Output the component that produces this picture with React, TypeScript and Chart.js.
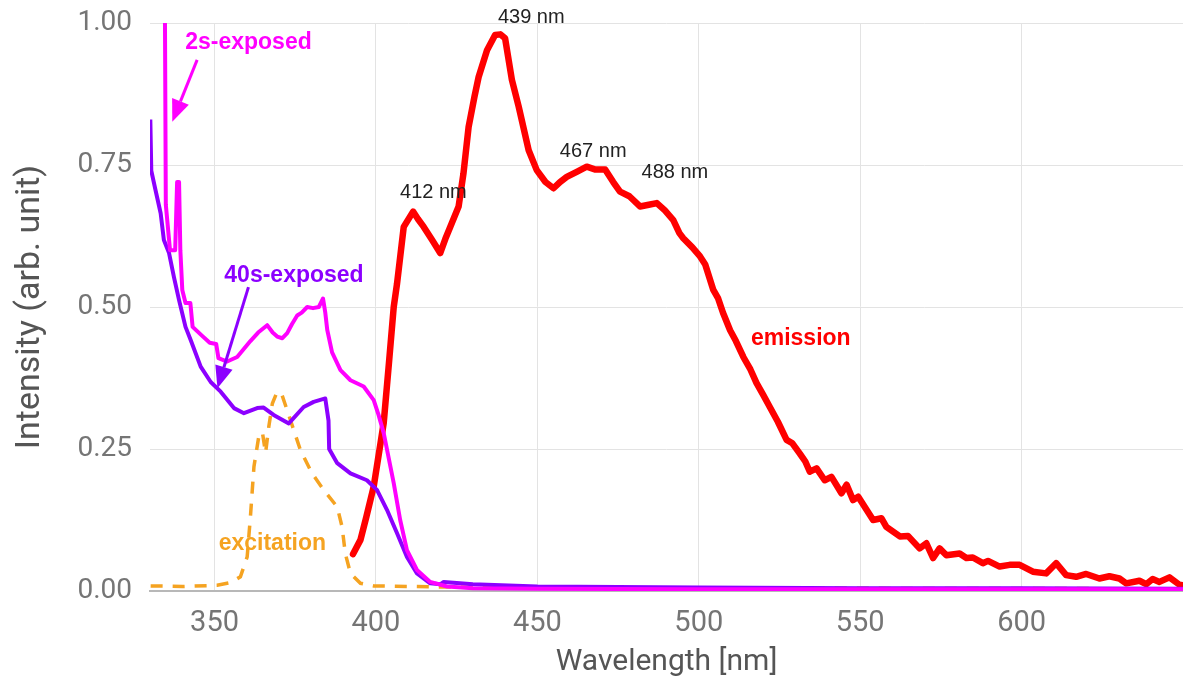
import React, { useEffect, useRef } from 'react';
import { Chart, registerables } from 'chart.js';

Chart.register(...registerables);

// ---- axis ticks ----
const xTicks = [350, 400, 450, 500, 550, 600];
const yTicks = [0, 0.25, 0.5, 0.75, 1.0];

// ---- emission (red) ----
const emissionWl = [392.9, 395.2, 397.0, 399.3, 402.4, 404.0, 405.5, 406.5, 408.6, 411.5, 413.0, 414.8, 417.4, 419.9, 421.5, 423.0, 425.6, 427.1, 428.7, 430.5, 431.8, 434.4, 436.9, 438.5, 440.0, 442.1, 444.2, 447.3, 449.8, 452.5, 455.0, 457.0, 459.1, 462.2, 465.3, 468.0, 471.0, 473.5, 475.6, 478.5, 481.8, 484.5, 487.0, 489.5, 492.1, 494.0, 495.2, 498.0, 500.4, 502.0, 504.5, 506.0, 507.5, 509.7, 511.5, 513.8, 516.0, 517.9, 520.0, 522.0, 524.5, 527.2, 529.0, 531.3, 533.0, 534.4, 536.5, 539.0, 541.1, 544.2, 545.8, 547.8, 549.4, 554.0, 556.6, 558.1, 562.3, 564.8, 568.4, 570.5, 572.6, 574.6, 576.7, 580.8, 582.9, 584.9, 588.0, 589.6, 593.2, 596.3, 599.4, 603.5, 607.6, 610.7, 613.8, 616.9, 620.0, 624.1, 627.2, 630.3, 632.4, 636.5, 638.6, 640.6, 642.7, 645.8, 648.9, 650.0];
const emissionVal = [0.065, 0.09, 0.13, 0.184, 0.296, 0.4, 0.5, 0.54, 0.641, 0.668, 0.655, 0.641, 0.618, 0.595, 0.62, 0.641, 0.677, 0.735, 0.817, 0.87, 0.905, 0.952, 0.979, 0.98, 0.973, 0.9, 0.853, 0.776, 0.741, 0.72, 0.709, 0.72, 0.729, 0.738, 0.747, 0.742, 0.742, 0.72, 0.703, 0.695, 0.677, 0.68, 0.683, 0.67, 0.653, 0.63, 0.621, 0.605, 0.589, 0.575, 0.53, 0.515, 0.49, 0.459, 0.44, 0.412, 0.39, 0.366, 0.345, 0.324, 0.298, 0.266, 0.26, 0.242, 0.228, 0.21, 0.216, 0.195, 0.201, 0.172, 0.187, 0.16, 0.166, 0.125, 0.128, 0.113, 0.096, 0.097, 0.075, 0.084, 0.058, 0.075, 0.063, 0.066, 0.058, 0.059, 0.049, 0.053, 0.043, 0.046, 0.046, 0.034, 0.031, 0.049, 0.028, 0.025, 0.03, 0.022, 0.026, 0.022, 0.0135, 0.018, 0.012, 0.021, 0.016, 0.024, 0.011, 0.01];

// ---- 2s-exposed (magenta) ----
const exp2sWl = [334.6, 334.9, 336.2, 337.8, 338.4, 339.0, 339.4, 340.0, 341.0, 342.5, 343.2, 346.0, 348.5, 350.5, 351.2, 353.9, 357.0, 361.1, 363.5, 366.3, 368.0, 369.4, 371.0, 372.5, 374.0, 375.6, 377.0, 378.7, 380.5, 382.3, 383.6, 384.3, 384.9, 386.4, 389.0, 392.1, 396.2, 399.3, 400.8, 402.4, 405.5, 407.5, 409.6, 412.7, 416.8, 422.0, 430, 450, 500, 550, 600, 650];
const exp2sVal = [1.05, 0.68, 0.6, 0.6, 0.72, 0.72, 0.6, 0.53, 0.507, 0.507, 0.465, 0.45, 0.437, 0.435, 0.41, 0.404, 0.412, 0.44, 0.455, 0.468, 0.455, 0.448, 0.445, 0.454, 0.47, 0.485, 0.49, 0.5, 0.498, 0.5, 0.515, 0.49, 0.46, 0.42, 0.389, 0.371, 0.36, 0.336, 0.31, 0.278, 0.19, 0.125, 0.072, 0.037, 0.016, 0.008, 0.005, 0.004, 0.003, 0.003, 0.003, 0.003];

// ---- 40s-exposed (purple) ----
const exp40sWl = [330.1, 330.4, 331.7, 333.3, 334.3, 335.9, 337.4, 339.0, 341.0, 342.6, 345.7, 348.8, 351.9, 356.0, 359.1, 363.2, 365.2, 368.3, 373.0, 377.6, 380.7, 384.3, 385.3, 385.5, 388.0, 392.1, 397.2, 400.3, 403.4, 406.5, 409.6, 412.7, 416.8, 420.0, 421.0, 430, 450, 500, 550, 600, 650];
const exp40sVal = [0.83, 0.74, 0.706, 0.665, 0.618, 0.595, 0.553, 0.512, 0.465, 0.442, 0.395, 0.368, 0.351, 0.322, 0.313, 0.322, 0.323, 0.31, 0.295, 0.324, 0.333, 0.339, 0.3, 0.25, 0.225, 0.207, 0.195, 0.178, 0.143, 0.102, 0.06, 0.031, 0.0135, 0.012, 0.016, 0.012, 0.008, 0.006, 0.005, 0.005, 0.004];

// ---- excitation (orange, dashed) ----
const excitationWl = [330.2, 340.0, 350.8, 355.0, 358.0, 360.1, 361.1, 362.2, 363.7, 364.8, 365.8, 366.8, 367.9, 369.4, 370.9, 373.5, 376.6, 380.2, 383.8, 388.0, 389.5, 390.5, 392.1, 395.2, 399.3, 420, 500, 650];
const excitationVal = [0.009, 0.008, 0.01, 0.015, 0.025, 0.06, 0.13, 0.219, 0.272, 0.28, 0.243, 0.289, 0.33, 0.351, 0.345, 0.301, 0.248, 0.207, 0.178, 0.148, 0.113, 0.066, 0.031, 0.0135, 0.009, 0.007, 0.005, 0.004];

// ---- annotations ----
const peakLabels = ['412 nm', '439 nm', '467 nm', '488 nm'];
const peakLabelWl = [417.8, 448.1, 467.3, 492.6];
const peakLabelVal = [0.701, 1.009, 0.773, 0.736];

const seriesLabels = ['2s-exposed', '40s-exposed', 'excitation', 'emission'];
const seriesLabelWl = [360.5, 374.6, 367.9, 531.6];
const seriesLabelVal = [0.965, 0.555, 0.084, 0.445];

const arrowFromWl = [344.6, 360.5];
const arrowFromVal = [0.935, 0.535];
const arrowToWl = [336.9, 350.9];
const arrowToVal = [0.826, 0.357];

const MAGENTA = '#ff00ff';
const PURPLE = '#8c00ff';
const RED = '#ff0000';
const ORANGE = '#f5a321';

const seriesLabelColors = [MAGENTA, PURPLE, ORANGE, RED];
const arrowColors = [MAGENTA, PURPLE];

const toPoints = (xs: number[], ys: number[]) => xs.map((x, i) => ({ x, y: ys[i] }));

function drawArrow(ctx: CanvasRenderingContext2D, x1: number, y1: number, x2: number, y2: number, color: string) {
  const headLen = 22;
  const headHalf = 9;
  const ang = Math.atan2(y2 - y1, x2 - x1);
  const bx = x2 - headLen * Math.cos(ang);
  const by = y2 - headLen * Math.sin(ang);
  ctx.strokeStyle = color;
  ctx.fillStyle = color;
  ctx.lineWidth = 3;
  ctx.beginPath();
  ctx.moveTo(x1, y1);
  ctx.lineTo(bx, by);
  ctx.stroke();
  ctx.beginPath();
  ctx.moveTo(x2, y2);
  ctx.lineTo(bx + headHalf * Math.sin(ang), by - headHalf * Math.cos(ang));
  ctx.lineTo(bx - headHalf * Math.sin(ang), by + headHalf * Math.cos(ang));
  ctx.closePath();
  ctx.fill();
}

const annotationPlugin = {
  id: 'spectraAnnotations',
  afterDatasetsDraw(chart: any) {
    const { ctx } = chart;
    const xs = chart.scales.x;
    const ys = chart.scales.y;
    ctx.save();
    ctx.textAlign = 'center';
    ctx.textBaseline = 'middle';
    ctx.font = '20px "Liberation Sans", Arial, sans-serif';
    ctx.fillStyle = '#222222';
    peakLabels.forEach((t, i) => {
      ctx.fillText(t, xs.getPixelForValue(peakLabelWl[i]), ys.getPixelForValue(peakLabelVal[i]));
    });
    ctx.font = 'bold 23px "Liberation Sans", Arial, sans-serif';
    seriesLabels.forEach((t, i) => {
      ctx.fillStyle = seriesLabelColors[i];
      ctx.fillText(t, xs.getPixelForValue(seriesLabelWl[i]), ys.getPixelForValue(seriesLabelVal[i]));
    });
    arrowFromWl.forEach((_, i) => {
      drawArrow(
        ctx,
        xs.getPixelForValue(arrowFromWl[i]),
        ys.getPixelForValue(arrowFromVal[i]),
        xs.getPixelForValue(arrowToWl[i]),
        ys.getPixelForValue(arrowToVal[i]),
        arrowColors[i]
      );
    });
    ctx.restore();
  },
};

export default function App() {
  const canvasRef = useRef<HTMLCanvasElement>(null);

  useEffect(() => {
    if (!canvasRef.current) return;
    const chart = new Chart(canvasRef.current, {
      type: 'line',
      data: {
        datasets: [
          {
            label: '2s-exposed',
            data: toPoints(exp2sWl, exp2sVal),
            borderColor: MAGENTA,
            borderWidth: 4,
            pointRadius: 0,
            tension: 0,
            borderJoinStyle: 'round',
            fill: false,
          },
          {
            label: '40s-exposed',
            data: toPoints(exp40sWl, exp40sVal),
            borderColor: PURPLE,
            borderWidth: 4,
            pointRadius: 0,
            tension: 0,
            borderJoinStyle: 'round',
            fill: false,
          },
          {
            label: 'emission',
            data: toPoints(emissionWl, emissionVal),
            borderColor: RED,
            borderWidth: 6.5,
            pointRadius: 0,
            tension: 0,
            borderJoinStyle: 'round',
            borderCapStyle: 'round',
            fill: false,
          },
          {
            label: 'excitation',
            data: toPoints(excitationWl, excitationVal),
            borderColor: ORANGE,
            borderWidth: 3.5,
            borderDash: [12, 10],
            pointRadius: 0,
            tension: 0,
            fill: false,
          },
        ],
      },
      options: {
        animation: false,
        responsive: true,
        maintainAspectRatio: false,
        devicePixelRatio: 1,
        layout: { padding: { top: 23, right: 0, bottom: 0, left: 0 } },
        plugins: {
          legend: { display: false },
          tooltip: { enabled: false },
        },
        scales: {
          x: {
            type: 'linear',
            min: 330,
            max: 650,
            afterBuildTicks: (axis: any) => {
              axis.ticks = xTicks.map((v) => ({ value: v }));
            },
            afterFit: (axis: any) => {
              axis.height = 95;
              axis.paddingLeft = 0;
              axis.paddingRight = 0;
            },
            grid: { color: '#e3e3e3', lineWidth: 1, drawTicks: false },
            border: { display: true, color: '#b8b8b8', width: 2 },
            ticks: {
              padding: 15,
              color: '#757575',
              font: { family: 'Roboto', size: 29 },
              maxRotation: 0,
            },
            title: {
              display: true,
              text: 'Wavelength [nm]',
              color: '#555555',
              font: { family: 'Roboto', size: 30 },
              padding: { top: 0, bottom: 6 },
            },
          },
          y: {
            type: 'linear',
            min: 0,
            max: 1,
            afterBuildTicks: (axis: any) => {
              axis.ticks = yTicks.map((v) => ({ value: v }));
            },
            afterFit: (axis: any) => {
              axis.width = 150;
              axis.paddingTop = 0;
              axis.paddingBottom = 0;
            },
            grid: { color: '#e3e3e3', lineWidth: 1, drawTicks: false },
            border: { display: false },
            ticks: {
              padding: 18,
              color: '#757575',
              font: { family: 'Roboto', size: 28 },
              callback: (v: any) => Number(v).toFixed(2),
            },
            title: {
              display: true,
              text: 'Intensity (arb. unit)',
              color: '#555555',
              font: { family: 'Roboto', size: 34 },
              padding: { top: 10, bottom: 0 },
            },
          },
        },
      },
      plugins: [annotationPlugin],
    });
    return () => chart.destroy();
  }, []);

  return (
    <div style={{ position: 'fixed', left: 0, top: 0, width: 1183, height: 686, background: '#ffffff' }}>
      <canvas ref={canvasRef} />
    </div>
  );
}
